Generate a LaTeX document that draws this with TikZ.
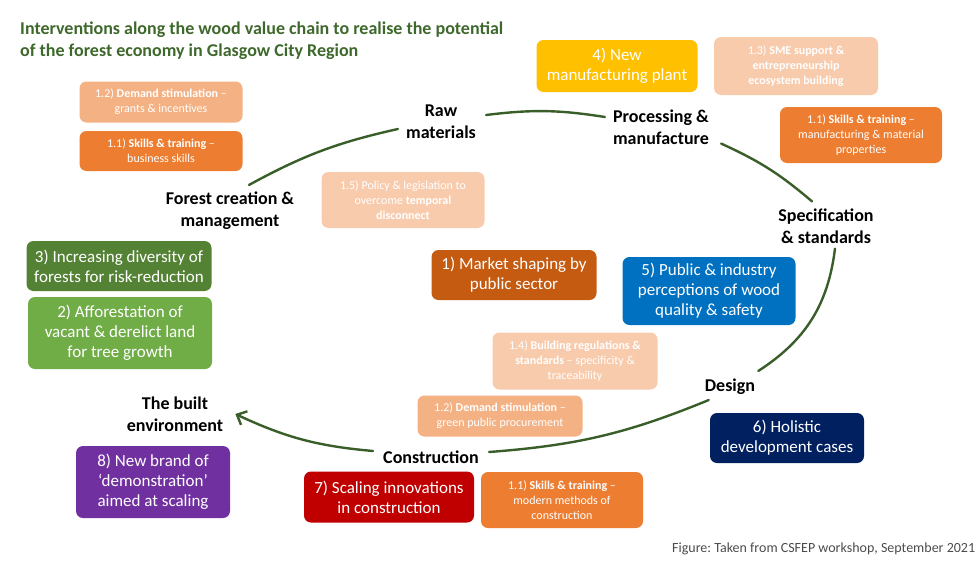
\documentclass[tikz,border=0pt]{standalone}
\usepackage{fontspec}
\setmainfont{Carlito}
\usetikzlibrary{arrows.meta}
\frenchspacing
\definecolor{titlegreen}{RGB}{62,104,44}
\definecolor{arcgreen}{RGB}{58,94,42}
\definecolor{cyellow}{RGB}{255,192,0}
\definecolor{cpeach}{RGB}{248,203,173}
\definecolor{cpeachmid}{RGB}{244,177,131}
\definecolor{corange}{RGB}{237,125,49}
\definecolor{cdkorange}{RGB}{197,90,17}
\definecolor{cdkgreen}{RGB}{84,130,53}
\definecolor{cgreen}{RGB}{112,173,71}
\definecolor{cblue}{RGB}{0,112,192}
\definecolor{cnavy}{RGB}{0,32,96}
\definecolor{cpurple}{RGB}{112,48,160}
\definecolor{cred}{RGB}{192,0,0}
\begin{document}
\begin{tikzpicture}[x=1pt, y=-1pt, line join=round, line cap=round, >={Straight Barb[length=8pt,width=15pt]},
 box/.style={rounded corners=7pt, text=white, align=center, inner sep=2pt},
 bigbox/.style={box, font=\fontsize{17}{20}\selectfont},
 smallbox/.style={box, font=\fontsize{12}{15}\selectfont},
 stage/.style={font=\bfseries\fontsize{18}{22}\selectfont, align=center, inner sep=3pt},
 cycleline/.style={draw=arcgreen, line width=2.4pt}]
 				\useasboundingbox (0,0) rectangle (980,562);
 				\node[anchor=north west, inner sep=0, align=left, text=titlegreen, font=\bfseries\fontsize{18}{22}\selectfont] (title) at (20,22)
 				{Interventions along the wood value chain to realise the potential\\of the forest economy in Glasgow City Region};
 				% stages of the value chain
 				\node[stage] (raw) at (441,122) {Raw\\materials};
 				\node[stage] (proc) at (661,127) {Processing \&\\manufacture};
 				\node[stage] (spec) at (826,226) {Specification\\\& standards};
 				\node[stage] (design) at (730,387) {Design};
 				\node[stage] (constr) at (431,457) {Construction};
 				\node[stage] (built) at (175,414) {The built\\environment};
 				\node[stage] (forest) at (230,211) {Forest creation \&\\management};
 				\draw[cycleline] ([xshift=19pt,yshift=4pt]forest.north) to[bend left=8] ([xshift=-5pt,yshift=-7pt]raw.west);
 				\draw[cycleline] ([xshift=7pt,yshift=7pt]raw.east) to[bend left=8] ([xshift=-5pt,yshift=10pt]proc.west);
 				\draw[cycleline] ([xshift=9pt,yshift=4pt]proc.south east) to[bend left=8] ([xshift=-14pt,yshift=4pt]spec.north);
 				\draw[cycleline] ([xshift=9pt,yshift=-2pt]spec.south) to[bend left=25] ([yshift=5pt]design.north east);
 				\draw[cycleline] ([xshift=7pt,yshift=-2pt]design.south west) to[bend left=9] ([xshift=7pt,yshift=5pt]constr.east);
 				\draw[cycleline,->] ([xshift=-7pt,yshift=6pt]constr.west) to[bend left=10] ([xshift=9pt]built.east);
 				% numbered interventions
 				\node[bigbox, fill=cyellow, minimum width=161pt, minimum height=52pt] (plant) at (617,66) {4) New\\manufacturing plant};
 				\node[bigbox, fill=cdkorange, minimum width=165pt, minimum height=50pt] (market) at (514,275) {1) Market shaping by\\public sector};
 				\node[bigbox, fill=cdkgreen, minimum width=185pt, minimum height=50pt] (diversity) at (119,266) {3) Increasing diversity of\\forests for risk-reduction};
 				\node[bigbox, fill=cgreen, minimum width=184pt, minimum height=72pt] (afforest) at (120,333) {2) Afforestation of\\vacant \& derelict land\\for tree growth};
 				\node[bigbox, fill=cblue, minimum width=173pt, minimum height=68pt] (perception) at (709,291) {5) Public \& industry\\perceptions of wood\\quality \& safety};
 				\node[bigbox, fill=cnavy, minimum width=154pt, minimum height=50pt] (holistic) at (787,438) {6) Holistic\\development cases};
 				\node[bigbox, fill=cred, minimum width=170pt, minimum height=51pt] (scaling) at (389,497) {7) Scaling innovations\\in construction};
 				\node[bigbox, fill=cpurple, minimum width=154pt, minimum height=72pt] (brand) at (153,482) {8) New brand of\\`demonstration'\\aimed at scaling};
 				% sub-interventions
 				\node[smallbox, fill=cpeach, minimum width=164pt, minimum height=58pt] (sme) at (796,66) {1.3) \textbf{SME support \&}\\\textbf{entrepreneurship}\\\textbf{ecosystem building}};
 				\node[smallbox, fill=corange, minimum width=162pt, minimum height=56pt] (skillsmf) at (861,135) {1.1) \textbf{Skills \& training} --\\manufacturing \& material\\properties};
 				\node[smallbox, fill=cpeachmid, minimum width=163pt, minimum height=41pt] (grants) at (161,102) {1.2) \textbf{Demand stimulation} --\\grants \& incentives};
 				\node[smallbox, fill=corange, minimum width=163pt, minimum height=40pt] (business) at (161,151) {1.1) \textbf{Skills \& training} --\\business skills};
 				\node[smallbox, fill=cpeach, minimum width=163pt, minimum height=56pt] (policy) at (403,200) {1.5) Policy \& legislation to\\overcome \textbf{temporal}\\\textbf{disconnect}};
 				\node[smallbox, fill=cpeach, minimum width=165pt, minimum height=57pt] (regs) at (575,361) {1.4) \textbf{Building regulations \&}\\\textbf{standards} -- specificity \&\\traceability};
 				\node[smallbox, fill=cpeachmid, minimum width=165pt, minimum height=41pt] (procure) at (500,416) {1.2) \textbf{Demand stimulation} --\\green public procurement};
 				\node[smallbox, fill=corange, minimum width=162pt, minimum height=56pt] (mmc) at (562,500) {1.1) \textbf{Skills \& training} --\\modern methods of\\construction};
 				\node[anchor=west, inner sep=0, text=black!70, font=\fontsize{14}{16}\selectfont] (source) at (672,549) {Figure: Taken from CSFEP workshop, September 2021};
 			\end{tikzpicture}
\end{document}
